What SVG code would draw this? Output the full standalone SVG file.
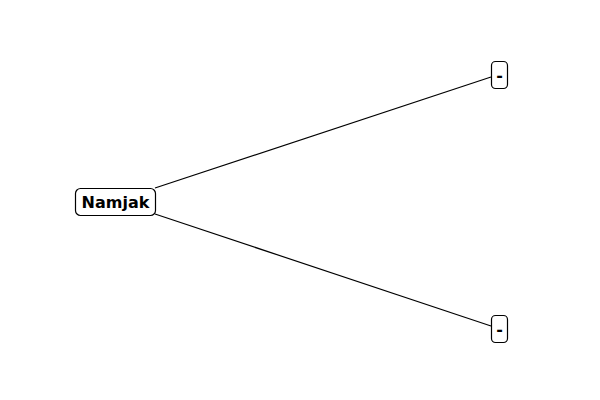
<svg xmlns="http://www.w3.org/2000/svg" width="600" height="400" viewBox="0 0 600 400">
<style>
.node rect{fill:#fff;stroke:#000;stroke-width:1.2;}
.node text{font-family:"DejaVu Sans",sans-serif;font-weight:bold;font-size:16px;fill:#000;text-anchor:middle;dominant-baseline:central;}
.edge{stroke:#000;stroke-width:1.2;fill:none;}
</style>
<rect width="600" height="400" fill="#fff"/>
<g id="edges">
<line class="edge" x1="155" y1="188" x2="491" y2="77"/>
<line class="edge" x1="155" y1="214" x2="491" y2="326"/>
</g>
<g id="node-namjak" class="node">
<rect x="75.5" y="188.5" width="80" height="27" rx="5"/>
<text x="115.5" y="202">Namjak</text>
</g>
<g id="node-top" class="node">
<rect x="491.5" y="61.5" width="16" height="27" rx="4"/>
<text x="499.5" y="75">-</text>
</g>
<g id="node-bottom" class="node">
<rect x="491.5" y="315.5" width="16" height="27" rx="4"/>
<text x="499.5" y="329">-</text>
</g>
</svg>
